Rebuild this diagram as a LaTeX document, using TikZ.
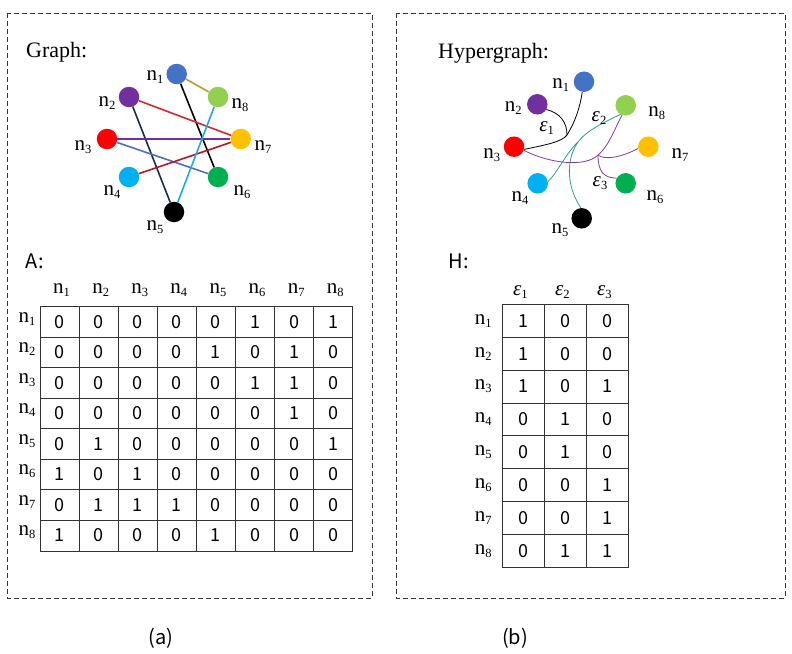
\documentclass[tikz,border=0pt]{standalone}
\usepackage{fontspec}
\setmainfont{Liberation Serif}
\newfontfamily\yh{Noto Sans CJK SC}
\usetikzlibrary{positioning}

\definecolor{nBlue}{HTML}{4472C4}
\definecolor{nPurple}{HTML}{7030A0}
\definecolor{nRed}{HTML}{FF0000}
\definecolor{nCyan}{HTML}{00B0F0}
\definecolor{nGreen}{HTML}{00B050}
\definecolor{nGold}{HTML}{FFC000}
\definecolor{nLime}{HTML}{92D050}
\definecolor{eOlive}{HTML}{BF9A2E}
\definecolor{eRed}{HTML}{D9262B}
\definecolor{eDark}{HTML}{C0141E}
\definecolor{eNavy}{HTML}{1A2B4C}
\definecolor{eSteel}{HTML}{4F6FB8}
\definecolor{eSky}{HTML}{1FA9E0}
\definecolor{eTeal}{HTML}{2E9E86}
\definecolor{ePurple}{HTML}{7A3D9E}

% vertex name with small subscript
\newcommand{\vname}[1]{n\raisebox{-0.32ex}{\fontsize{12.5}{12.5}\selectfont #1}}
\newcommand{\epsn}[1]{\textit{ε}\raisebox{-0.32ex}{\fontsize{12.5}{12.5}\selectfont #1}}

\tikzset{
  vtx/.style={circle, inner sep=0pt, minimum size=20.5pt},
  vlabel/.style={inner sep=0pt, font=\fontsize{21}{21}\selectfont},
  title/.style={inner sep=0pt, anchor=west, font=\fontsize{22}{22}\selectfont},
  sanslabel/.style={inner sep=0pt, font=\yh\fontsize{20}{20}\selectfont},
  cell/.style={inner sep=0pt, font=\yh\fontsize{18}{18}\selectfont},
  edge/.style={line width=1.6pt},
  hedge/.style={line width=0.8pt},
  gridline/.style={draw=black!80, line width=1pt},
  panel/.style={draw=black!80, line width=0.8pt, dash pattern=on 5pt off 3pt}
}

\begin{document}
\begin{tikzpicture}[x=1pt, y=-1pt]
  \useasboundingbox (0,0) rectangle (792,653);

  % --- panels ---
  \draw[panel] (7,13) rectangle (372,598);
  \draw[panel] (396,13) rectangle (785,598);

  % ================= (a) graph =================
  \node[title] (gtitle) at (26,52) {Graph:};

  \node[vtx, fill=nBlue]   (g1) at (176.7,74) {};
  \node[vtx, fill=nPurple] (g2) at (129,97) {};
  \node[vtx, fill=nRed]    (g3) at (107,139) {};
  \node[vtx, fill=nCyan]   (g4) at (129,177) {};
  \node[vtx, fill=black]   (g5) at (174,212) {};
  \node[vtx, fill=nGreen]  (g6) at (218,177) {};
  \node[vtx, fill=nGold]   (g7) at (240.7,139) {};
  \node[vtx, fill=nLime]   (g8) at (218,97) {};

  \node[vlabel] (gl1) at (155,77) {\vname{1}};
  \node[vlabel] (gl2) at (107,103) {\vname{2}};
  \node[vlabel] (gl3) at (83,147) {\vname{3}};
  \node[vlabel] (gl4) at (112,192) {\vname{4}};
  \node[vlabel] (gl5) at (155,227) {\vname{5}};
  \node[vlabel] (gl6) at (242,192) {\vname{6}};
  \node[vlabel] (gl7) at (263,147) {\vname{7}};
  \node[vlabel] (gl8) at (240,105) {\vname{8}};

  % edges
  \draw[edge, eOlive]  (g1) -- (g8);
  \draw[edge, black]   (g1) -- (g6);
  \draw[edge, eRed]    (g2) -- (g7);
  \draw[edge, eNavy]   (g2) -- (g5);
  \draw[edge, nPurple] (g3) -- (g7);
  \draw[edge, eSteel]  (g3) -- (g6);
  \draw[edge, eDark]   (g4) -- (g7);
  \draw[edge, eSky]    (g5) -- (g8);

  % adjacency matrix A
  \node[sanslabel] (atitle) at (34.7,261.7) {A:};
  \foreach \j in {1,...,8}
    \node[vlabel] (ac\j) at ({40+39.1*(\j-0.5)+2},290) {\vname{\j}};
  \foreach \i in {1,...,8}
    \node[vlabel] (ar\i) at (27,{306.7+30.5*(\i-0.5)-3}) {\vname{\i}};
  \foreach \r [count=\i] in {{0,0,0,0,0,1,0,1},{0,0,0,0,1,0,1,0},
      {0,0,0,0,0,1,1,0},{0,0,0,0,0,0,1,0},{0,1,0,0,0,0,0,1},
      {1,0,1,0,0,0,0,0},{0,1,1,1,0,0,0,0},{1,0,0,0,1,0,0,0}}
    \foreach \v [count=\j] in \r
      \node[cell] (a-\i-\j) at ({40+39.1*(\j-0.5)},{306.7+30.5*(\i-0.5)}) {\v};
  \draw[gridline] (40,306.7) rectangle (352.7,551);
  \foreach \k in {1,...,7} {
    \draw[gridline] ({40+39.1*\k},306.7) -- ({40+39.1*\k},551);
    \draw[gridline] (40,{306.7+30.5*\k}) -- (352.7,{306.7+30.5*\k});
  }

  \node[sanslabel] (capa) at (160.7,638) {(a)};

  % ================= (b) hypergraph =================
  \node[title] (htitle) at (438,53) {Hypergraph:};

  \node[vtx, fill=nBlue]   (h1) at (584,81.7) {};
  \node[vtx, fill=nPurple] (h2) at (537.3,104.3) {};
  \node[vtx, fill=nRed]    (h3) at (514,146.7) {};
  \node[vtx, fill=nCyan]   (h4) at (537.7,183.3) {};
  \node[vtx, fill=black]   (h5) at (581.7,218.3) {};
  \node[vtx, fill=nGreen]  (h6) at (625.7,183.3) {};
  \node[vtx, fill=nGold]   (h7) at (648.3,146.7) {};
  \node[vtx, fill=nLime]   (h8) at (625.7,105.3) {};

  \node[vlabel] (hl1) at (560.7,85) {\vname{1}};
  \node[vlabel] (hl2) at (513.3,108) {\vname{2}};
  \node[vlabel] (hl3) at (491.7,155) {\vname{3}};
  \node[vlabel] (hl4) at (520,198) {\vname{4}};
  \node[vlabel] (hl5) at (560,230) {\vname{5}};
  \node[vlabel] (hl6) at (655,197) {\vname{6}};
  \node[vlabel] (hl7) at (680,155) {\vname{7}};
  \node[vlabel] (hl8) at (656.7,113) {\vname{8}};

  % hyperedge e1
  \coordinate (j1) at (567,135);
  \draw[hedge, black] (h3.-15) .. controls (545,145) and (562,142) .. (j1)
        .. controls (575,122) and (580,108) .. (h1.-100);
  \draw[hedge, black] (h2.-30) .. controls (560,113) and (567,122) .. (j1);
  % hyperedge e2
  \coordinate (j2) at (578,142);
  \draw[hedge, eTeal] (h8.-120) .. controls (605,122) and (587,130) .. (j2)
        .. controls (566,153) and (558,172) .. (h4.10);
  \draw[hedge, eTeal] (j2) .. controls (568,156) and (564,182) .. (h5.95);
  % hyperedge e3
  \coordinate (j3) at (598,155);
  \draw[hedge, ePurple] (h3.-20) .. controls (548,163) and (585,168) .. (j3)
        .. controls (610,145) and (616,125) .. (h8.-110);
  \draw[hedge, ePurple] (j3) .. controls (604,160) and (620,158) .. (h7.190);
  \draw[hedge, ePurple] (j3) .. controls (598,172) and (604,178) .. (h6.150);

  \node[vlabel] (el1) at (546.7,128) {\epsn{1}};
  \node[vlabel] (el2) at (599,118) {\epsn{2}};
  \node[vlabel] (el3) at (600,183) {\epsn{3}};

  % incidence matrix H
  \node[sanslabel] (hmtitle) at (459,261.7) {H:};
  \foreach \j in {1,2,3}
    \node[vlabel] (hc\j) at ({502.3+42*(\j-0.5)-3},291.7) {\epsn{\j}};
  \foreach \i in {1,...,8}
    \node[vlabel] (hr\i) at (483.3,{304.3+32.9*(\i-0.5)}) {\vname{\i}};
  \foreach \r [count=\i] in {{1,0,0},{1,0,0},{1,0,1},{0,1,0},
      {0,1,0},{0,0,1},{0,0,1},{0,1,1}}
    \foreach \v [count=\j] in \r
      \node[cell] (h-\i-\j) at ({502.3+42*(\j-0.5)},{304.3+32.9*(\i-0.5)}) {\v};
  \draw[gridline] (502.3,304.3) rectangle (628.3,567.5);
  \foreach \k in {1,2}
    \draw[gridline] ({502.3+42*\k},304.3) -- ({502.3+42*\k},567.5);
  \foreach \k in {1,...,7}
    \draw[gridline] (502.3,{304.3+32.9*\k}) -- (628.3,{304.3+32.9*\k});

  \node[sanslabel] (capb) at (515,638) {(b)};
\end{tikzpicture}
\end{document}
